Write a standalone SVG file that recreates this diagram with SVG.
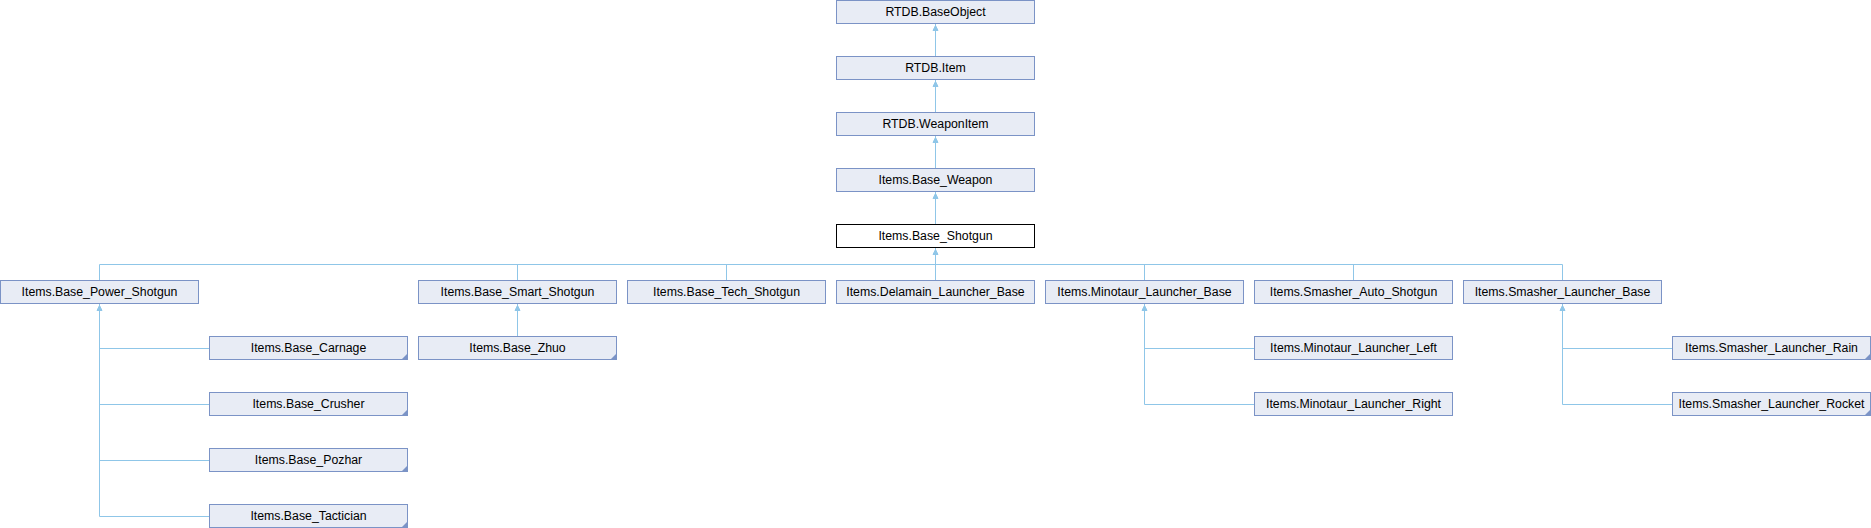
<svg xmlns="http://www.w3.org/2000/svg" width="1871" height="528" viewBox="0 0 1871 528">
<style>
.n rect{fill:#e8ecf5;stroke:#7b93c6;stroke-width:1}
.n.cur rect{fill:#ffffff;stroke:#000000}
.n text{font-family:"Liberation Sans",Arial,sans-serif;font-size:12.3px;fill:#000;text-anchor:middle}
.n polygon{fill:#7b93c6}
.e{stroke:#8fc6e8;stroke-width:1;fill:none}
.ah{fill:#8fc6e8;stroke:#8fc6e8;stroke-width:1}
</style>
<rect width="1871" height="528" fill="#ffffff"/>
<g id="connectors">
<path class="e" d="M935.5,23.5V56.5M935.5,79.5V112.5M935.5,135.5V168.5M935.5,191.5V224.5"/>
<path class="e" d="M935.5,247.5V264.5M99.5,264.5H1562.5M99.5,264.5V280.5M517.5,264.5V280.5M726.5,264.5V280.5M935.5,264.5V280.5M1144.5,264.5V280.5M1353.5,264.5V280.5M1562.5,264.5V280.5"/>
<path class="e" d="M99.5,303.5V516.5M99.5,348.5H209.5M99.5,404.5H209.5M99.5,460.5H209.5M99.5,516.5H209.5"/>
<path class="e" d="M517.5,303.5V336.5"/>
<path class="e" d="M1144.5,303.5V404.5M1144.5,348.5H1254.5M1144.5,404.5H1254.5"/>
<path class="e" d="M1562.5,303.5V404.5M1562.5,348.5H1672.5M1562.5,404.5H1672.5"/>
<polygon class="ah" points="935.5,25.5 933,30.5 938,30.5"/>
<polygon class="ah" points="935.5,81.5 933,86.5 938,86.5"/>
<polygon class="ah" points="935.5,137.5 933,142.5 938,142.5"/>
<polygon class="ah" points="935.5,193.5 933,198.5 938,198.5"/>
<polygon class="ah" points="935.5,249.5 933,254.5 938,254.5"/>
<polygon class="ah" points="99.5,305.5 97,310.5 102,310.5"/>
<polygon class="ah" points="517.5,305.5 515,310.5 520,310.5"/>
<polygon class="ah" points="1144.5,305.5 1142,310.5 1147,310.5"/>
<polygon class="ah" points="1562.5,305.5 1560,310.5 1565,310.5"/>
</g>
<g id="n_BaseObject" class="n"><rect x="836.5" y="0.5" width="198" height="23"/><text x="935.5" y="15.5">RTDB.BaseObject</text></g>
<g id="n_Item" class="n"><rect x="836.5" y="56.5" width="198" height="23"/><text x="935.5" y="71.5">RTDB.Item</text></g>
<g id="n_WeaponItem" class="n"><rect x="836.5" y="112.5" width="198" height="23"/><text x="935.5" y="127.5">RTDB.WeaponItem</text></g>
<g id="n_Base_Weapon" class="n"><rect x="836.5" y="168.5" width="198" height="23"/><text x="935.5" y="183.5">Items.Base_Weapon</text></g>
<g id="n_Base_Shotgun" class="n cur"><rect x="836.5" y="224.5" width="198" height="23"/><text x="935.5" y="239.5">Items.Base_Shotgun</text></g>
<g id="n_Power" class="n"><rect x="0.5" y="280.5" width="198" height="23"/><text x="99.5" y="295.5">Items.Base_Power_Shotgun</text></g>
<g id="n_Smart" class="n"><rect x="418.5" y="280.5" width="198" height="23"/><text x="517.5" y="295.5">Items.Base_Smart_Shotgun</text></g>
<g id="n_Tech" class="n"><rect x="627.5" y="280.5" width="198" height="23"/><text x="726.5" y="295.5">Items.Base_Tech_Shotgun</text></g>
<g id="n_Delamain" class="n"><rect x="836.5" y="280.5" width="198" height="23"/><text x="935.5" y="295.5">Items.Delamain_Launcher_Base</text></g>
<g id="n_MinoBase" class="n"><rect x="1045.5" y="280.5" width="198" height="23"/><text x="1144.5" y="295.5">Items.Minotaur_Launcher_Base</text></g>
<g id="n_SmashAuto" class="n"><rect x="1254.5" y="280.5" width="198" height="23"/><text x="1353.5" y="295.5">Items.Smasher_Auto_Shotgun</text></g>
<g id="n_SmashBase" class="n"><rect x="1463.5" y="280.5" width="198" height="23"/><text x="1562.5" y="295.5">Items.Smasher_Launcher_Base</text></g>
<g id="n_Carnage" class="n"><rect x="209.5" y="336.5" width="198" height="23"/><text x="308.5" y="351.5">Items.Base_Carnage</text><polygon points="407.5,353.5 407.5,359.5 401.5,359.5"/></g>
<g id="n_Crusher" class="n"><rect x="209.5" y="392.5" width="198" height="23"/><text x="308.5" y="407.5">Items.Base_Crusher</text><polygon points="407.5,409.5 407.5,415.5 401.5,415.5"/></g>
<g id="n_Pozhar" class="n"><rect x="209.5" y="448.5" width="198" height="23"/><text x="308.5" y="463.5">Items.Base_Pozhar</text><polygon points="407.5,465.5 407.5,471.5 401.5,471.5"/></g>
<g id="n_Tactician" class="n"><rect x="209.5" y="504.5" width="198" height="23"/><text x="308.5" y="519.5">Items.Base_Tactician</text><polygon points="407.5,521.5 407.5,527.5 401.5,527.5"/></g>
<g id="n_Zhuo" class="n"><rect x="418.5" y="336.5" width="198" height="23"/><text x="517.5" y="351.5">Items.Base_Zhuo</text><polygon points="616.5,353.5 616.5,359.5 610.5,359.5"/></g>
<g id="n_MinoLeft" class="n"><rect x="1254.5" y="336.5" width="198" height="23"/><text x="1353.5" y="351.5">Items.Minotaur_Launcher_Left</text></g>
<g id="n_MinoRight" class="n"><rect x="1254.5" y="392.5" width="198" height="23"/><text x="1353.5" y="407.5">Items.Minotaur_Launcher_Right</text></g>
<g id="n_Rain" class="n"><rect x="1672.5" y="336.5" width="198" height="23"/><text x="1771.5" y="351.5">Items.Smasher_Launcher_Rain</text><polygon points="1870.5,353.5 1870.5,359.5 1864.5,359.5"/></g>
<g id="n_Rocket" class="n"><rect x="1672.5" y="392.5" width="198" height="23"/><text x="1771.5" y="407.5">Items.Smasher_Launcher_Rocket</text><polygon points="1870.5,409.5 1870.5,415.5 1864.5,415.5"/></g>
</svg>
